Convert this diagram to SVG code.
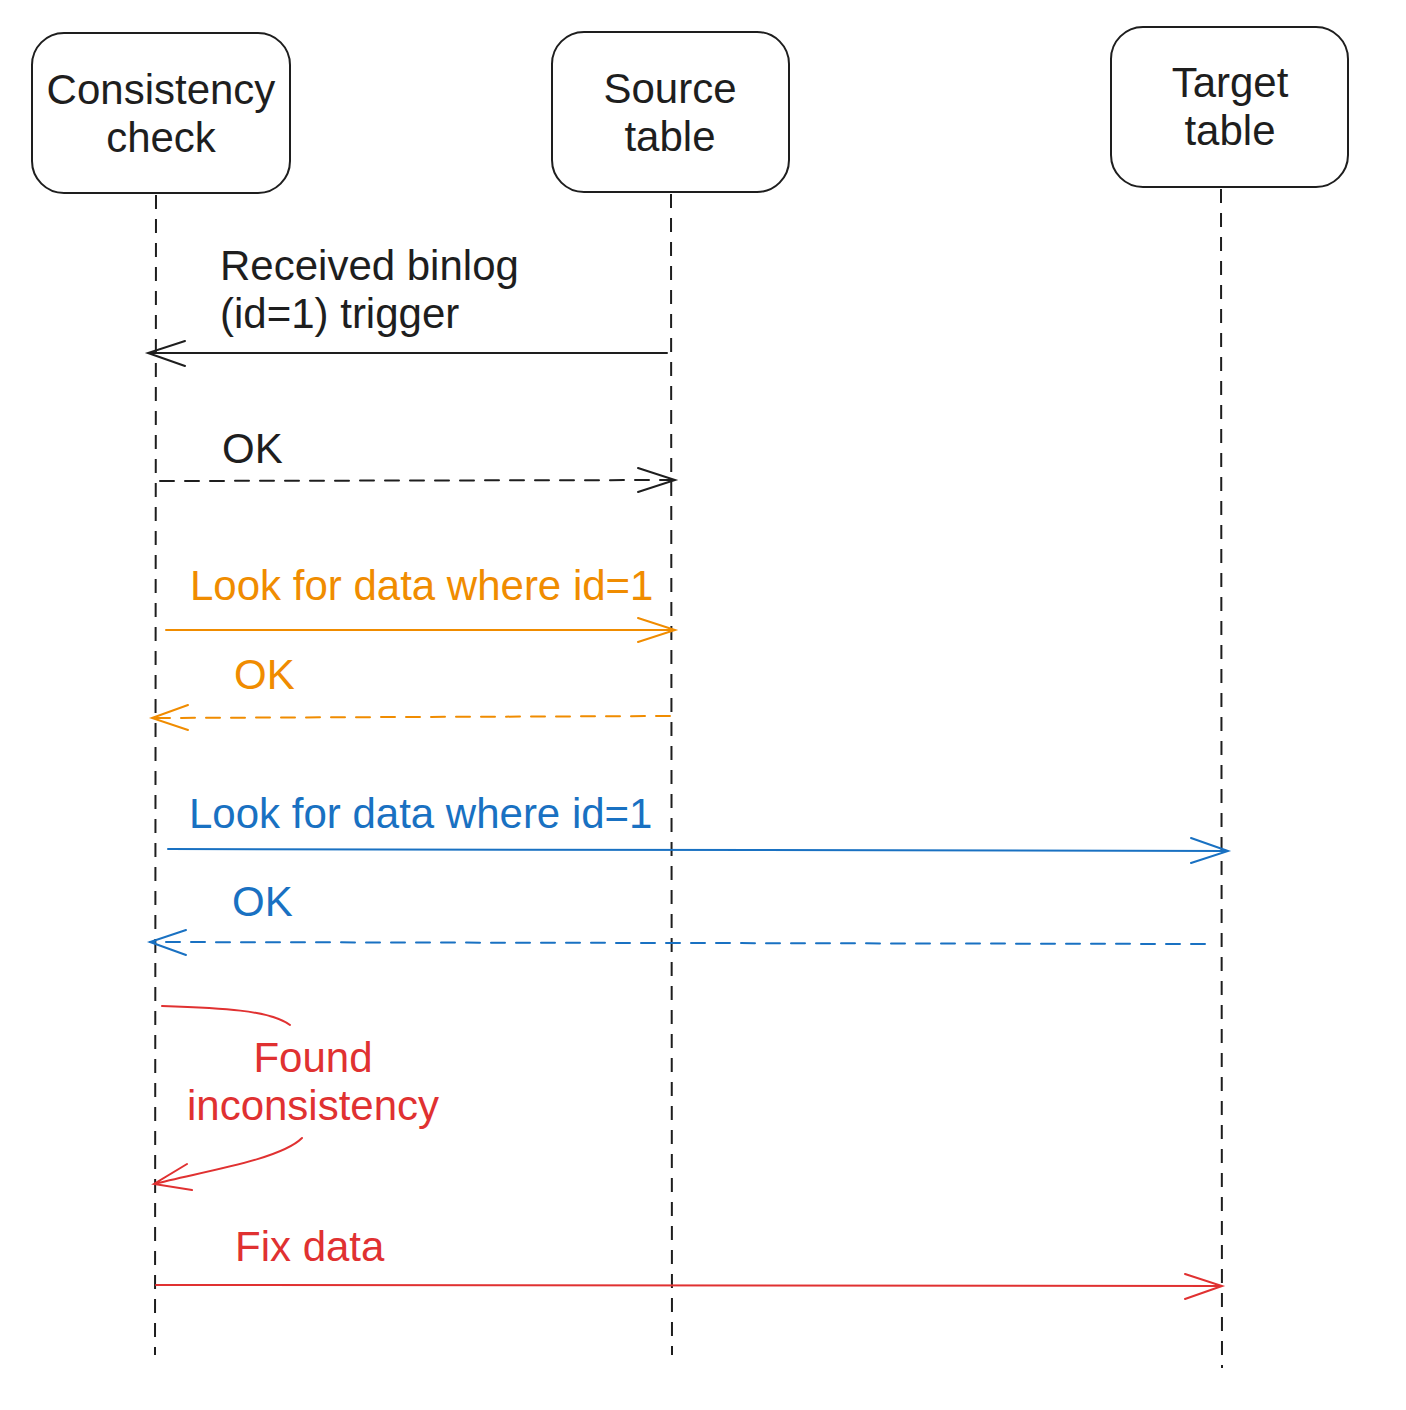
<svg xmlns="http://www.w3.org/2000/svg" width="1406" height="1410" viewBox="0 0 1406 1410">
<style>
text{font-family:"Liberation Sans",Arial,sans-serif;font-size:42px}
.box{fill:#fff;stroke:#1e1e1e;stroke-width:2}
.life{stroke:#1e1e1e;stroke-width:2;stroke-dasharray:14 10;fill:none}
.k{stroke:#1e1e1e;fill:none;stroke-width:2;stroke-linecap:round}
.o{stroke:#f08c00;fill:none;stroke-width:2;stroke-linecap:round}
.b{stroke:#1971c2;fill:none;stroke-width:2;stroke-linecap:round}
.r{stroke:#e03131;fill:none;stroke-width:2;stroke-linecap:round}
.d{stroke-dasharray:14 11}
.tk{fill:#1e1e1e}.to{fill:#f08c00}.tb{fill:#1971c2}.tr{fill:#e03131}
</style>
<g id="node-consistency">
<rect class="box" x="32" y="33" width="258" height="160" rx="32"/>
<text class="tk" x="161" y="104" text-anchor="middle">Consistency</text>
<text class="tk" x="161" y="152" text-anchor="middle">check</text>
</g>
<g id="node-source">
<rect class="box" x="552" y="32" width="237" height="160" rx="32"/>
<text class="tk" x="670" y="103" text-anchor="middle">Source</text>
<text class="tk" x="670" y="151" text-anchor="middle">table</text>
</g>
<g id="node-target">
<rect class="box" x="1111" y="27" width="237" height="160" rx="32"/>
<text class="tk" x="1230" y="97" text-anchor="middle">Target</text>
<text class="tk" x="1230" y="145" text-anchor="middle">table</text>
</g>
<g id="lifelines">
<line class="life" x1="156" y1="195" x2="155" y2="1355"/>
<line class="life" x1="671" y1="194" x2="672" y2="1355"/>
<line class="life" x1="1221" y1="189" x2="1222" y2="1368"/>
</g>
<g id="connectors">
<path class="k" d="M667 353 L148 353 M185 341 L148 353 L185 366"/>
<text class="tk" x="220" y="280">Received binlog</text>
<text class="tk" x="220" y="328">(id=1) trigger</text>
<path class="k d" d="M160 481 L675 480"/>
<path class="k" d="M638 468 L675 480 L638 492"/>
<text class="tk" x="222" y="463">OK</text>
<path class="o" d="M166 630 L675 630 M638 618 L675 630 L638 642"/>
<text class="to" x="190" y="600">Look for data where id=1</text>
<path class="o d" d="M670 716 L152 718"/>
<path class="o" d="M188 705 L152 718 L188 730"/>
<text class="to" x="234" y="689">OK</text>
<path class="b" d="M168 849 L1228 851 M1191 838 L1228 851 L1191 863"/>
<text class="tb" x="189" y="828">Look for data where id=1</text>
<path class="b d" d="M1205 944 L150 942"/>
<path class="b" d="M186 930 L150 942 L186 955"/>
<text class="tb" x="232" y="916">OK</text>
<path class="r" d="M162 1006 C220 1008 270 1010 290 1025"/>
<text class="tr" x="313" y="1072" text-anchor="middle">Found</text>
<text class="tr" x="313" y="1120" text-anchor="middle">inconsistency</text>
<path class="r" d="M302 1138 C280 1160 200 1172 154 1184 M187 1164 L154 1184 L192 1190"/>
<path class="r" d="M156 1285 L1222 1286 M1185 1274 L1222 1286 L1185 1299"/>
<text class="tr" x="235" y="1261">Fix data</text>
</g>
</svg>
